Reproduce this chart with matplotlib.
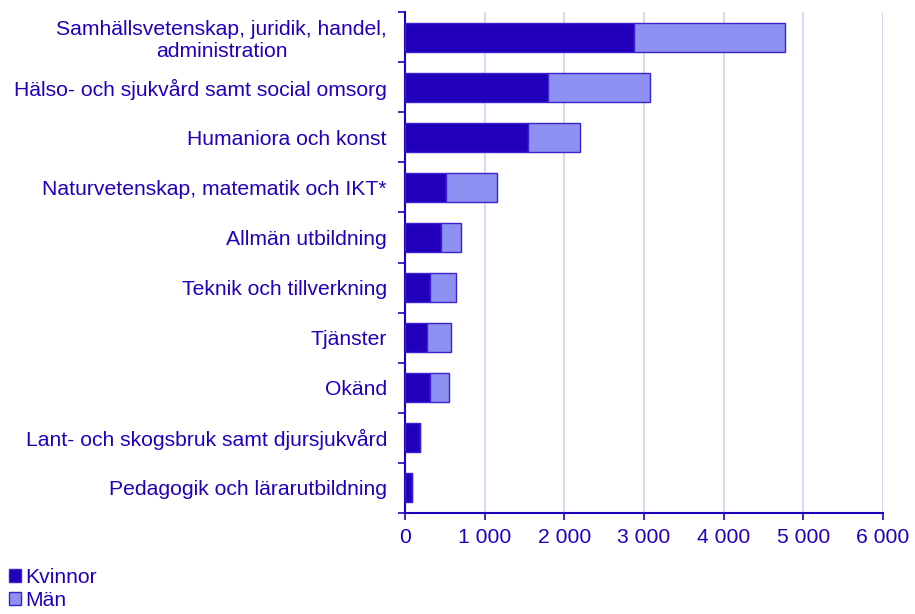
import numpy as np
import matplotlib.pyplot as plt
from matplotlib.patches import Patch

# data, top to bottom
omraden = ["Samhällsvetenskap, juridik, handel,\nadministration",
           "Hälso- och sjukvård samt social omsorg",
           "Humaniora och konst",
           "Naturvetenskap, matematik och IKT*",
           "Allmän utbildning",
           "Teknik och tillverkning",
           "Tjänster",
           "Okänd",
           "Lant- och skogsbruk samt djursjukvård",
           "Pedagogik och lärarutbildning"]
kvinnor = [2870, 1800, 1540, 520, 450, 310, 280, 320, 190, 90]
man = [1900, 1280, 660, 630, 255, 330, 295, 235, 0, 0]
xticks = [0, 1000, 2000, 3000, 4000, 5000, 6000]

c_text = "#2200bb"
c_k = "#2200bb"
c_m = "#8f91f2"
c_edge = "#3a22cc"
c_grid = "#d9d9f2"

plt.rcParams['font.family'] = ['Liberation Sans', 'DejaVu Sans']
plt.rcParams['font.size'] = 15.2

fig = plt.figure(figsize=(9.15, 6.14), dpi=100)
ax = fig.add_axes([405/915, 1-513/614, 478/915, 501/614])

n = len(omraden)
y = np.arange(n)
ax.barh(y, kvinnor, height=0.58, color=c_k, edgecolor=c_edge, linewidth=1, zorder=3)
ax.barh(y, man, left=kvinnor, height=0.58, color=c_m, edgecolor=c_edge, linewidth=1, zorder=3)

ax.set_xlim(0, 6000)
ax.set_ylim(n - 0.5, -0.5)
ax.set_xticks(xticks)
ax.set_xticklabels([f"{v:,}".replace(",", " ") for v in xticks], color=c_text)
ax.xaxis.grid(True, color=c_grid, linewidth=1.5, zorder=0)

ax.set_yticks(y)
ax.set_yticklabels(omraden, color=c_text, multialignment='center', linespacing=1.2)
ax.set_yticks(np.arange(-0.5, n, 1), minor=True)
ax.tick_params(axis='y', which='major', length=0, pad=13)
ax.tick_params(axis='y', which='minor', length=5, width=1.2, color=c_text, direction='out')
ax.tick_params(axis='x', length=5, width=1.2, color=c_text, pad=6)

for s in ['top', 'right']:
    ax.spines[s].set_visible(False)
for s in ['left', 'bottom']:
    ax.spines[s].set_color(c_text)
    ax.spines[s].set_linewidth(1.5)

handles = [Patch(facecolor=c_k, edgecolor=c_edge), Patch(facecolor=c_m, edgecolor=c_edge)]
leg = fig.legend(handles, ["Kvinnor", "Män"], loc='lower left', bbox_to_anchor=(-0.006, -0.018),
                 frameon=False, handlelength=0.55, handleheight=0.55, handletextpad=0.2,
                 labelspacing=0.22, borderaxespad=0.3)
for t in leg.get_texts():
    t.set_color(c_text)

fig.savefig("out.png", dpi=100)
